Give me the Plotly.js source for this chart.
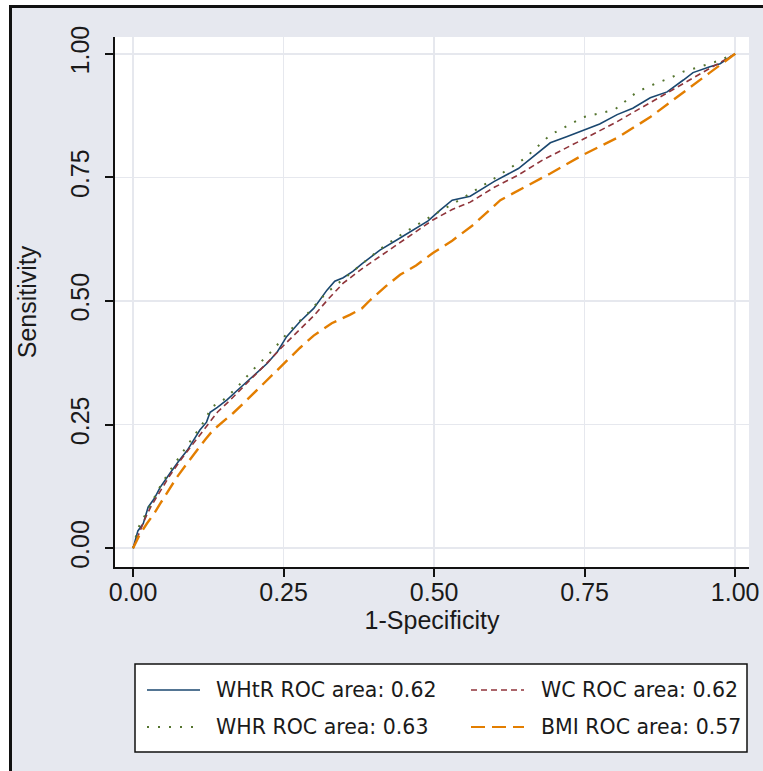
<!DOCTYPE html>
<html><head><meta charset="utf-8">
<script src="https://cdn.plot.ly/plotly-3.0.1.min.js"></script>
<style>
html,body{margin:0;padding:0;background:#fff;overflow:hidden;width:763px;height:771px;}
#frame{position:absolute;left:9px;top:5px;width:800px;height:800px;background:#e6e8ef;border-left:3px solid #111;border-top:3px solid #111;}
#chart{position:absolute;left:0;top:0;width:763px;height:771px;}
</style></head><body>
<div id="frame"></div><div id="chart"></div>
<script>
// ---- data ----
const seriesNames = ["WHtR ROC area: 0.62", "WC ROC area: 0.62", "WHR ROC area: 0.63", "BMI ROC area: 0.57"];

const whtrX = [0,0.008,0.017,0.025,0.035,0.045,0.061,0.075,0.09,0.111,0.122,0.128,0.14,0.156,0.172,0.189,0.205,0.223,0.24,0.255,0.277,0.3,0.322,0.335,0.349,0.365,0.38,0.41,0.44,0.46,0.49,0.51,0.53,0.56,0.6,0.64,0.693,0.72,0.748,0.775,0.804,0.83,0.859,0.887,0.914,0.93,0.958,0.975,0.992,1];
const whtrY = [0,0.035,0.05,0.083,0.1,0.123,0.151,0.175,0.198,0.239,0.255,0.275,0.285,0.3,0.318,0.336,0.353,0.374,0.398,0.428,0.458,0.485,0.522,0.54,0.547,0.56,0.575,0.603,0.625,0.64,0.662,0.684,0.704,0.712,0.742,0.768,0.82,0.832,0.846,0.858,0.877,0.89,0.911,0.923,0.947,0.962,0.974,0.98,0.994,1];

const wcX = [0,0.01,0.02,0.03,0.045,0.06,0.08,0.1,0.12,0.14,0.16,0.18,0.2,0.225,0.25,0.28,0.3,0.325,0.349,0.38,0.41,0.44,0.47,0.498,0.53,0.56,0.6,0.64,0.68,0.72,0.75,0.8,0.85,0.9,0.95,1];
const wcY = [0,0.03,0.06,0.085,0.115,0.145,0.18,0.212,0.245,0.275,0.298,0.322,0.348,0.378,0.41,0.445,0.47,0.505,0.536,0.565,0.59,0.615,0.64,0.664,0.685,0.7,0.73,0.755,0.785,0.81,0.83,0.86,0.895,0.93,0.965,1];

const whrX = [0,0.008,0.017,0.03,0.045,0.06,0.08,0.1,0.12,0.13,0.15,0.17,0.2,0.23,0.26,0.29,0.32,0.35,0.38,0.41,0.45,0.5,0.55,0.6,0.65,0.693,0.748,0.8,0.837,0.87,0.892,0.914,0.937,0.97,1];
const whrY = [0,0.04,0.06,0.09,0.125,0.155,0.19,0.225,0.26,0.285,0.3,0.322,0.362,0.398,0.44,0.475,0.515,0.545,0.575,0.605,0.638,0.675,0.71,0.748,0.788,0.836,0.872,0.887,0.923,0.941,0.951,0.964,0.972,0.985,1];

const bmiX = [0,0.01,0.023,0.035,0.045,0.06,0.073,0.09,0.106,0.12,0.133,0.15,0.166,0.185,0.206,0.23,0.256,0.277,0.3,0.33,0.36,0.38,0.394,0.42,0.4435,0.47,0.498,0.53,0.565,0.61,0.65,0.693,0.748,0.804,0.859,0.914,0.958,1];
const bmiY = [0,0.025,0.05,0.07,0.09,0.118,0.144,0.172,0.198,0.22,0.239,0.256,0.273,0.295,0.32,0.35,0.38,0.405,0.43,0.455,0.472,0.485,0.502,0.53,0.553,0.572,0.597,0.622,0.654,0.704,0.73,0.758,0.796,0.83,0.872,0.921,0.962,1];

const tickVals = [0, 0.25, 0.5, 0.75, 1];
const tickLabels = ["0.00", "0.25", "0.50", "0.75", "1.00"];

// ---- styles ----
const styles = [
  {color:"#1a476f", width:1.6, dash:"solid"},
  {color:"#90353b", width:1.6, dash:"6px,4px"},
  {color:"#55752f", width:2, dash:"2px,9px"},
  {color:"#e37e00", width:2.4, dash:"14px,7px"}
];
const xs = [whtrX, wcX, whrX, bmiX];
const ys = [whtrY, wcY, whrY, bmiY];

const traces = xs.map((x, i) => ({
  type: "scatter", mode: "lines", x: x, y: ys[i], name: seriesNames[i],
  line: {color: styles[i].color, width: styles[i].width, dash: styles[i].dash},
  showlegend: false, hoverinfo: "skip"
}));

// ---- layout geometry ----
const W = 763, H = 771;
const M = {l:115, r:14, t:37, b:204};
const pw = W - M.l - M.r, ph = H - M.t - M.b;
const px = v => (v - M.l) / pw;
const py = v => (H - M.b - v) / ph;

const tickFont = {family:"Liberation Sans, Arial, sans-serif", size:25, color:"#1a1a1a"};

// manual legend (two columns, two rows)
const legBox = {x0:135, y0:664, x1:747, y1:752};
const legCells = [
  {i:0, lx:147, tx:214, y:690},
  {i:1, lx:471, tx:539, y:690},
  {i:2, lx:147, tx:214, y:727},
  {i:3, lx:471, tx:539, y:727}
];
const shapes = [{
  type:"rect", xref:"paper", yref:"paper",
  x0:px(legBox.x0), x1:px(legBox.x1), y0:py(legBox.y0), y1:py(legBox.y1),
  line:{color:"#111", width:1.5}, fillcolor:"#ffffff", layer:"below"
}];
const annotations = [];
legCells.forEach(c => {
  const s = styles[c.i];
  shapes.push({type:"line", xref:"paper", yref:"paper",
    x0:px(c.lx), x1:px(c.lx+53), y0:py(c.y), y1:py(c.y),
    line:{color:s.color, width:Math.min(s.width,2), dash:s.dash}});
  annotations.push({xref:"paper", yref:"paper", x:px(c.tx), y:py(c.y),
    xanchor:"left", yanchor:"middle", showarrow:false, text:seriesNames[c.i],
    font:{family:"DejaVu Sans, sans-serif", size:20.5, color:"#1a1a1a"}});
});

const layout = {
  width: W, height: H,
  margin: M,
  paper_bgcolor: "rgba(0,0,0,0)",
  plot_bgcolor: "#ffffff",
  showlegend: false,
  xaxis: {
    range: [-0.03, 1.023], tickvals: tickVals, ticktext: tickLabels,
    showline: true, linecolor: "#111", linewidth: 2, mirror: false,
    ticks: "outside", ticklen: 8, tickwidth: 2, tickcolor: "#111",
    showgrid: true, gridcolor: "#e6e8ee", gridwidth: 1.5, zeroline: false,
    tickfont: tickFont, ticklabelstandoff: -6,
    title: {text: "1-Specificity", font: tickFont, standoff: 0}
  },
  yaxis: {
    range: [-0.038, 1.034], tickvals: tickVals, ticktext: tickLabels,
    showline: true, linecolor: "#111", linewidth: 2, mirror: false,
    ticks: "outside", ticklen: 8, tickwidth: 2, tickcolor: "#111",
    showgrid: true, gridcolor: "#e6e8ee", gridwidth: 1.5, zeroline: false,
    tickfont: tickFont, tickangle: -90, ticklabelstandoff: 6,
    title: {text: "Sensitivity", font: tickFont, standoff: 22}
  },
  shapes: shapes,
  annotations: annotations
};

Plotly.newPlot("chart", traces, layout, {displayModeBar:false, staticPlot:true});
</script>
</body></html>
